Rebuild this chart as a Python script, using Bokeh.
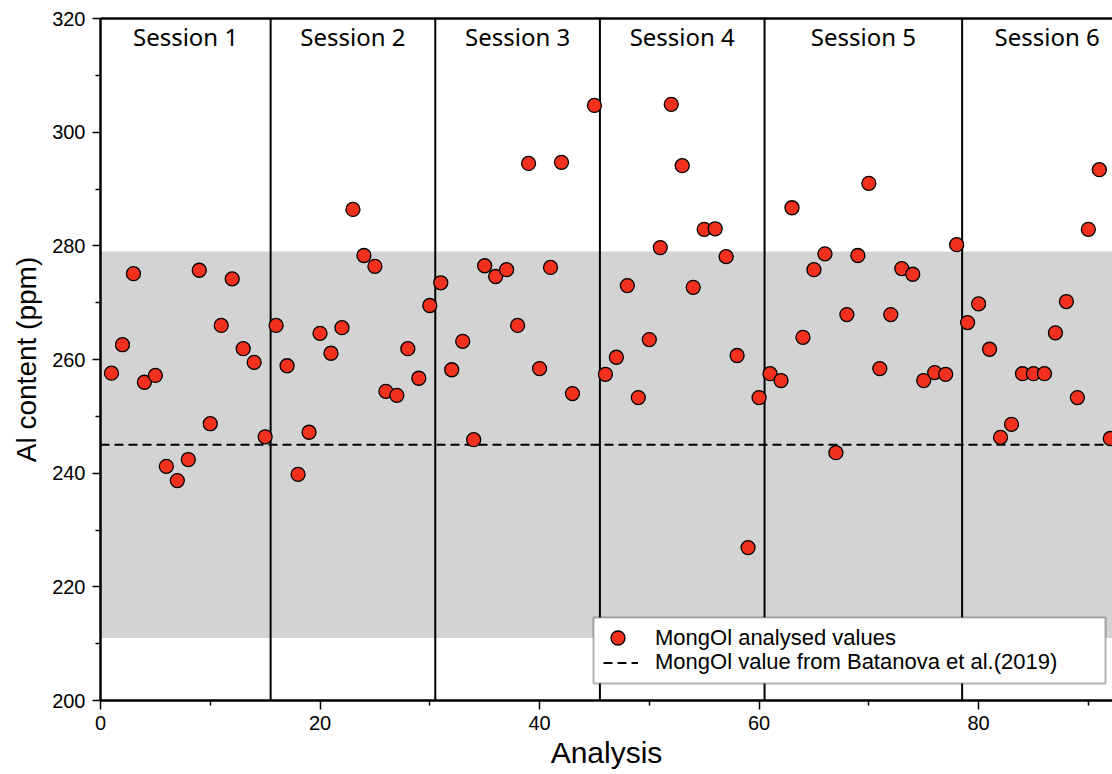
from bokeh.plotting import figure
from bokeh.models import (Span, BoxAnnotation, Legend, LegendItem, LinearAxis,
                          FixedTicker, Range1d, ColumnDataSource)
from bokeh.core.properties import value
from bokeh.embed import file_html
from bokeh.resources import INLINE

# ---------------- data ----------------
analysis = list(range(1, 44)) + list(range(45, 93))

al_session1 = [257.6, 262.6, 275.1, 256.0, 257.2, 241.2, 238.7, 242.4, 275.7, 248.7,
               266.0, 274.2, 261.9, 259.5, 246.4]
al_session2 = [266.0, 258.9, 239.8, 247.2, 264.6, 261.1, 265.6, 286.4, 278.3, 276.4,
               254.4, 253.7, 261.9, 256.7, 269.5]
al_session3 = [273.5, 258.2, 263.2, 245.9, 276.5, 274.6, 275.8, 266.0, 294.5, 258.4,
               276.2, 294.7, 254.0, 304.7]
al_session4 = [257.4, 260.4, 273.0, 253.3, 263.5, 279.7, 304.9, 294.1, 272.7, 282.9,
               283.0, 278.1, 260.7, 226.9, 253.3]
al_session5 = [257.5, 256.3, 286.7, 263.9, 275.8, 278.6, 243.6, 267.9, 278.3, 291.0,
               258.4, 267.9, 276.0, 275.0, 256.3, 257.7, 257.4, 280.2]
al_session6 = [266.5, 269.8, 261.8, 246.3, 248.6, 257.5, 257.5, 257.5, 264.7, 270.2,
               253.3, 282.9, 293.4, 246.1]
al_content = al_session1 + al_session2 + al_session3 + al_session4 + al_session5 + al_session6

session_labels = ["Session 1", "Session 2", "Session 3", "Session 4", "Session 5", "Session 6"]
session_edges = [0, 15.5, 30.5, 45.5, 60.5, 78.5, 94]
reference_value = 245          # Batanova et al. (2019)
reference_band = (211, 279)    # uncertainty band

x_ticks = [0, 20, 40, 60, 80]
x_minor = [10, 30, 50, 70, 90]
y_ticks = [200, 220, 240, 260, 280, 300, 320]
y_minor = [210, 230, 250, 270, 290, 310]

X_START, X_END = 0, 92.2
Y_START, Y_END = 200, 320

# ---------------- figure ----------------
p = figure(width=1112, height=774, x_range=Range1d(X_START, X_END),
           y_range=Range1d(Y_START, Y_END), output_backend="svg",
           toolbar_location=None, min_border_left=100, min_border_right=0,
           min_border_top=18, min_border_bottom=74)
p.grid.visible = False
p.outline_line_color = None
p.background_fill_color = "white"

FONT = "Liberation Sans"

for ax in (p.xaxis[0], p.yaxis[0]):
    ax.axis_line_width = 2.5
    ax.axis_line_color = "black"
    ax.major_tick_line_color = "black"
    ax.minor_tick_line_color = "black"
    ax.major_tick_line_width = 1.5
    ax.minor_tick_line_width = 1.5
    ax.major_tick_in = 0
    ax.minor_tick_in = 0
    ax.major_tick_out = 8
    ax.minor_tick_out = 5
    ax.major_label_text_font = FONT
    ax.major_label_text_font_size = "20px"
    ax.major_label_text_color = "black"
    ax.axis_label_text_font = FONT
    ax.axis_label_text_font_style = "normal"
    ax.axis_label_text_color = "black"

p.xaxis.ticker = FixedTicker(ticks=x_ticks, minor_ticks=x_minor)
p.yaxis.ticker = FixedTicker(ticks=y_ticks, minor_ticks=y_minor)
p.xaxis.axis_label = "Analysis"
p.yaxis.axis_label = "Al content (ppm)"
p.xaxis.axis_label_text_font_size = "30px"
p.yaxis.axis_label_text_font_size = "28px"
p.xaxis.major_tick_out = 9
p.xaxis.major_label_standoff = 6
p.yaxis.major_label_standoff = 7
p.xaxis.axis_label_standoff = 3
p.yaxis.axis_label_standoff = 7

# top border
top_ax = LinearAxis(ticker=FixedTicker(ticks=[]), major_label_text_font_size="0px",
                    axis_line_width=2.5, axis_line_color="black",
                    major_tick_line_color=None, minor_tick_line_color=None)
p.add_layout(top_ax, "above")

# reference band
band = BoxAnnotation(bottom=reference_band[0], top=reference_band[1],
                     fill_color="#d3d3d3", fill_alpha=1.0, line_color=None,
                     level="underlay")
p.add_layout(band)

# session dividers
for edge in session_edges[1:-1]:
    p.add_layout(Span(location=edge, dimension="height", line_color="black",
                      line_width=2, level="underlay"))

# session labels
centers = [(a + b) / 2 for a, b in zip(session_edges[:-1], session_edges[1:])]
lab_src = ColumnDataSource(dict(x=centers, y=[Y_END] * len(centers), text=session_labels))
p.text(x="x", y="y", text="text", source=lab_src, text_align="center",
       text_baseline="top", y_offset=1, text_font=value("Noto Sans"),
       text_font_size="24px", text_color="black")

# reference value line
ref_line = p.line(x=[X_START, X_END], y=[reference_value, reference_value],
                  line_color="black", line_width=2, line_dash="9 5")

# points
src = ColumnDataSource(dict(x=analysis, y=al_content))
sc = p.scatter(x="x", y="y", source=src, size=14, fill_color="#f2301e",
               line_color="black", line_width=1.3)

# ---------------- legend ----------------
legend_frame = BoxAnnotation(left=493, right=1005, bottom=17, top=83,
                             left_units="screen", right_units="screen",
                             bottom_units="screen", top_units="screen",
                             fill_color="white", fill_alpha=1.0,
                             line_color="black", line_width=2, level="annotation")
p.add_layout(legend_frame)


def make_legend(item, loc, gw, gh, standoff):
    lg = Legend(items=[item], location=loc)
    lg.border_line_color = None
    lg.background_fill_alpha = 0
    lg.label_text_font = FONT
    lg.label_text_font_size = "22px"
    lg.label_text_color = "black"
    lg.glyph_width = gw
    lg.glyph_height = gh
    lg.label_height = gh
    lg.label_standoff = standoff
    lg.padding = 0
    lg.spacing = 0
    lg.margin = 0
    return lg


leg1 = make_legend(LegendItem(label="MongOl analysed values", renderers=[sc]),
                   (500, 45), 35, 35, 20)
leg2 = make_legend(LegendItem(label="MongOl value from Batanova et al.(2019)",
                              renderers=[ref_line]),
                   (503, 25), 35, 25, 17)
p.add_layout(leg1)
p.add_layout(leg2)

open("out.html", "w").write(file_html(p, INLINE))
